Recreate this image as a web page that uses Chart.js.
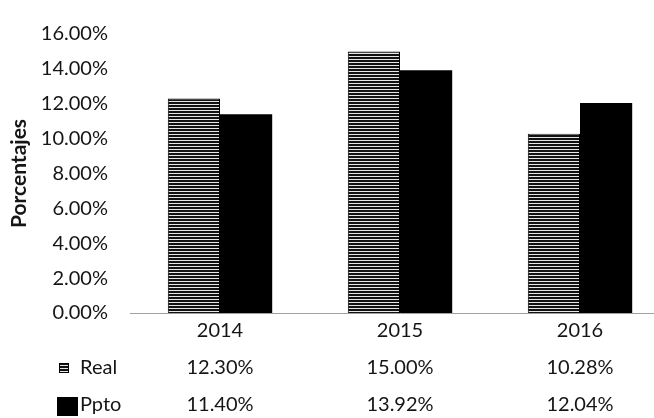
<!DOCTYPE html>
<html>
<head>
<meta charset="utf-8">
<script src="https://cdn.jsdelivr.net/npm/chart.js@4.4.1/dist/chart.umd.min.js"></script>
<style>
  html, body { margin: 0; padding: 0; background: #fff; overflow: hidden; width: 654px; height: 418px; }
  canvas { display: block; }
</style>
</head>
<body>
<canvas id="chart" width="670" height="418"></canvas>
<script>
// Annual rates: actual vs budget
const categories = ['2014', '2015', '2016'];
const realValues = [12.30, 15.00, 10.28];
const pptoValues = [11.40, 13.92, 12.04];
const seriesNames = ['Real', 'Ppto'];
const yMin = 0;
const yMax = 16;
const yStep = 2;
const axisTitle = 'Porcentajes';

const FONT = 'Lato, "Open Sans", sans-serif';
const TEXT = '#151515';

const canvas = document.getElementById('chart');
const ctx = canvas.getContext('2d');

// Horizontal line hatch used for the "Real" series
function stripePattern() {
  const tile = document.createElement('canvas');
  tile.width = 4; tile.height = 3;
  const g = tile.getContext('2d');
  g.fillStyle = '#e6e6e6'; g.fillRect(0, 0, 4, 3);
  g.fillStyle = '#121212'; g.fillRect(0, 0, 4, 2);
  return ctx.createPattern(tile, 'repeat');
}
const hatch = stripePattern();

const fmt = v => v.toFixed(2) + '%';

// Data table drawn under the category axis
const dataTable = {
  id: 'dataTable',
  afterDraw(chart) {
    const c = chart.ctx;
    const x = chart.scales.x;
    const rows = [
      { name: seriesNames[0], values: realValues, y: 368 },
      { name: seriesNames[1], values: pptoValues, y: 405 }
    ];
    c.save();
    // legend keys
    c.fillStyle = hatch;
    c.fillRect(59, 363, 10, 10);
    c.strokeStyle = '#000'; c.lineWidth = 1;
    c.strokeRect(59.5, 363.5, 9, 9);
    c.fillStyle = '#000';
    c.fillRect(57, 397, 21, 19);

    c.font = '20px ' + FONT;
    c.fillStyle = TEXT;
    c.textBaseline = 'middle';
    rows.forEach(r => {
      c.textAlign = 'left';
      c.fillText(r.name, 80, r.y);
      c.textAlign = 'center';
      r.values.forEach((v, i) => c.fillText(fmt(v), x.getPixelForValue(i), r.y));
    });
    c.restore();
  }
};

new Chart(ctx, {
  type: 'bar',
  data: {
    labels: categories,
    datasets: [
      {
        label: seriesNames[0],
        data: realValues,
        backgroundColor: hatch,
        borderColor: '#000',
        borderWidth: 1,
        borderSkipped: 'bottom'
      },
      {
        label: seriesNames[1],
        data: pptoValues,
        backgroundColor: '#000',
        borderWidth: 0
      }
    ]
  },
  options: {
    responsive: false,
    animation: false,
    events: [],
    layout: { padding: { top: 22, left: 0, right: 0, bottom: 0 } },
    datasets: { bar: { categoryPercentage: 0.58, barPercentage: 1 } },
    plugins: {
      legend: { display: false },
      tooltip: { enabled: false },
      title: { display: false }
    },
    scales: {
      x: {
        grid: { display: false, drawTicks: false },
        border: { display: true, color: '#a0a0a0', width: 1, dash: [3, 7] },
        ticks: { color: TEXT, font: { family: FONT, size: 20 }, padding: 6, maxRotation: 0 },
        afterFit: s => { s.height = 105; }
      },
      y: {
        min: yMin,
        max: yMax,
        grid: { display: false, drawTicks: false },
        border: { display: false },
        ticks: {
          stepSize: yStep,
          color: TEXT,
          font: { family: FONT, size: 20 },
          padding: 22,
          callback: v => fmt(v)
        },
        title: {
          display: true,
          text: axisTitle,
          color: TEXT,
          font: { family: FONT, size: 21, weight: 'bold' },
          padding: { top: 7, bottom: 0 }
        },
        afterFit: s => { s.width = 130; }
      }
    }
  },
  plugins: [dataTable]
});
</script>
</body>
</html>
